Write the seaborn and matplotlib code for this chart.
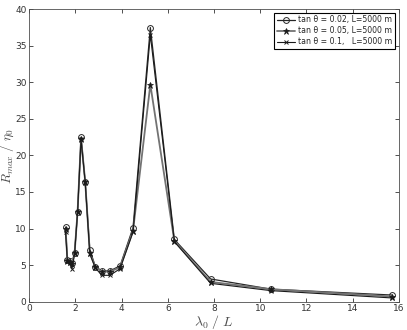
import matplotlib
matplotlib.use("Agg")
import matplotlib.pyplot as plt
import seaborn as sns

# lambda0 / L
x_vals = [1.57, 1.65, 1.75, 1.85, 1.96, 2.09, 2.24, 2.42, 2.62, 2.86,
          3.14, 3.49, 3.93, 4.49, 5.24, 6.28, 7.85, 10.47, 15.71]

# R_max / eta0 for each slope
r_002 = [10.2, 5.7, 5.5, 5.3, 6.7, 12.3, 22.5, 16.4, 7.1, 4.8,
         4.2, 4.2, 4.9, 10.1, 37.5, 8.5, 3.1, 1.7, 0.9]
r_005 = [10.0, 5.6, 5.4, 5.2, 6.6, 12.3, 22.3, 16.4, 6.7, 4.7,
         4.1, 4.1, 4.7, 9.7, 29.7, 8.3, 2.7, 1.7, 0.7]
r_01 = [9.5, 5.5, 5.3, 4.5, 6.5, 12.2, 22.2, 16.3, 6.5, 4.6,
        3.6, 3.6, 4.5, 9.5, 36.5, 8.2, 2.5, 1.5, 0.5]

labels = ["tan \u03b8 = 0.02, L=5000 m",
          "tan \u03b8 = 0.05, L=5000 m",
          "tan \u03b8 = 0.1,   L=5000 m"]

sns.set_style("ticks")
plt.rcParams['font.family'] = ['DejaVu Sans']
plt.rcParams['mathtext.fontset'] = 'cm'

fig = plt.figure(figsize=(4.07, 3.30), dpi=100)
ax = fig.add_axes([0.072, 0.086, 0.908, 0.886])

sns.lineplot(x=x_vals, y=r_002, ax=ax, color='0.15', lw=0.9, marker='o',
             markersize=4.2, markerfacecolor='none', markeredgecolor='0.15',
             markeredgewidth=0.7, label=labels[0])
sns.lineplot(x=x_vals, y=r_005, ax=ax, color='0.45', lw=1.3, marker='*',
             markersize=4.5, markerfacecolor='0.1', markeredgecolor='0.1',
             markeredgewidth=0.5, label=labels[1])
sns.lineplot(x=x_vals, y=r_01, ax=ax, color='0.1', lw=0.8, marker='x',
             markersize=3.2, markeredgecolor='0.1', markeredgewidth=0.7,
             label=labels[2])

ax.set_xlim(0, 16)
ax.set_ylim(0, 40)
ax.set_xticks(range(0, 17, 2))
ax.set_yticks(range(0, 41, 5))
ax.tick_params(direction='in', top=True, right=True, labelsize=6.5,
               length=3, width=0.6, colors='0.2', pad=2)
for s in ax.spines.values():
    s.set_visible(True)
    s.set_linewidth(0.6)
    s.set_color('0.3')

ax.set_xlabel(r'$\lambda_0\ /\ L$', fontsize=10, color='0.3', labelpad=0)
ax.set_ylabel(r'$R_{max}\ /\ \eta_0$', fontsize=9.5, color='0.3')
ax.yaxis.set_label_coords(-0.036, 0.5)

leg = ax.legend(loc='upper right', fontsize=5.6, frameon=True, fancybox=False,
                edgecolor='black', framealpha=1, handlelength=2.4,
                borderpad=0.3, labelspacing=0.25, handletextpad=0.4,
                borderaxespad=0.5)
leg.get_frame().set_linewidth(0.8)

fig.savefig("out.png", dpi=100)
